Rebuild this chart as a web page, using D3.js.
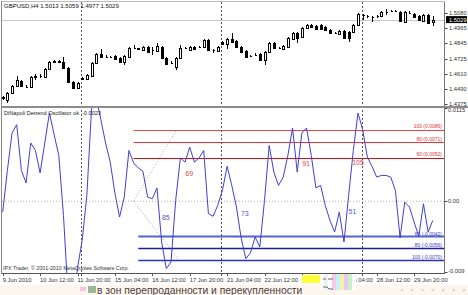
<!DOCTYPE html>
<html>
<head>
<meta charset="utf-8">
<script src="https://cdn.jsdelivr.net/npm/d3@7"></script>
<style>
  body { margin: 0; background: #fff; }
  svg { display: block; font-family: "Liberation Sans", Arial, sans-serif; }
</style>
</head>
<body>
<script>
// GBPUSD H4, 9 Jun 04:00 .. 30 Jun 2010, one entry per bar
const barOpen = [1.4424,1.4408,1.4462,1.4516,1.4555,1.4512,1.4509,1.4586,1.4594,1.4586,
  1.4648,1.4702,1.4706,1.4702,1.4655,1.4547,1.4501,1.4570,1.4570,1.4594,
  1.4694,1.4763,1.4740,1.4740,1.4748,1.4733,1.4702,1.4740,1.4810,1.4806,
  1.4794,1.4818,1.4794,1.4787,1.4818,1.4733,1.4694,1.4663,1.4733,1.4810,
  1.4794,1.4818,1.4818,1.4818,1.4872,1.4794,1.4787,1.4856,1.4841,1.4879,
  1.4864,1.4818,1.4787,1.4748,1.4756,1.4763,1.4717,1.4779,1.4848,1.4810,
  1.4802,1.4818,1.4879,1.4926,1.4895,1.4964,1.4987,1.4980,1.4987,1.4972,
  1.4949,1.4926,1.4918,1.4941,1.4933,1.4933,1.4987,1.5065,1.5057,1.5049,
  1.5057,1.5057,1.5088,1.5095,1.5095,1.5088,1.5011,1.5080,1.5072,1.5057,
  1.5018,1.5065,1.5013];
const barHigh = [1.4439,1.4470,1.4524,1.4594,1.4563,1.4524,1.4594,1.4609,1.4609,1.4655,
  1.4709,1.4717,1.4717,1.4740,1.4663,1.4555,1.4547,1.4586,1.4609,1.4702,
  1.4771,1.4802,1.4756,1.4748,1.4756,1.4740,1.4756,1.4818,1.4833,1.4810,
  1.4825,1.4825,1.4818,1.4848,1.4825,1.4740,1.4709,1.4740,1.4833,1.4818,
  1.4825,1.4825,1.4825,1.4879,1.4879,1.4802,1.4825,1.4864,1.4887,1.4926,
  1.4872,1.4825,1.4794,1.4756,1.4771,1.4771,1.4787,1.4856,1.4856,1.4818,
  1.4833,1.4895,1.4933,1.4933,1.4972,1.4995,1.4995,1.4987,1.4995,1.4980,
  1.4956,1.4933,1.4949,1.4949,1.4941,1.4995,1.5080,1.5072,1.5065,1.5057,
  1.5065,1.5095,1.5111,1.5103,1.5103,1.5095,1.5095,1.5095,1.5080,1.5065,
  1.5072,1.5072,1.5059];
const barLow = [1.4408,1.4385,1.4454,1.4509,1.4509,1.4501,1.4501,1.4563,1.4578,1.4578,
  1.4640,1.4694,1.4694,1.4648,1.4539,1.4493,1.4493,1.4563,1.4563,1.4586,
  1.4686,1.4733,1.4733,1.4733,1.4717,1.4694,1.4679,1.4733,1.4802,1.4794,
  1.4787,1.4771,1.4756,1.4779,1.4725,1.4679,1.4686,1.4640,1.4725,1.4802,
  1.4787,1.4794,1.4810,1.4810,1.4787,1.4771,1.4779,1.4833,1.4802,1.4848,
  1.4810,1.4771,1.4733,1.4740,1.4748,1.4709,1.4679,1.4771,1.4802,1.4802,
  1.4794,1.4810,1.4872,1.4848,1.4887,1.4956,1.4964,1.4949,1.4949,1.4941,
  1.4918,1.4918,1.4910,1.4879,1.4856,1.4926,1.4980,1.5026,1.5041,1.5011,
  1.5041,1.5049,1.5065,1.5088,1.5088,1.5011,1.5003,1.5072,1.5041,1.5018,
  1.5011,1.4995,1.4977];
const barClose = [1.4428,1.4462,1.4516,1.4563,1.4516,1.4509,1.4586,1.4594,1.4590,1.4648,
  1.4702,1.4706,1.4702,1.4655,1.4547,1.4501,1.4539,1.4578,1.4601,1.4694,
  1.4763,1.4740,1.4742,1.4737,1.4725,1.4702,1.4748,1.4810,1.4806,1.4802,
  1.4818,1.4779,1.4796,1.4825,1.4733,1.4686,1.4692,1.4733,1.4810,1.4808,
  1.4818,1.4802,1.4820,1.4872,1.4794,1.4792,1.4818,1.4841,1.4879,1.4856,
  1.4818,1.4779,1.4740,1.4746,1.4754,1.4717,1.4779,1.4848,1.4810,1.4808,
  1.4825,1.4887,1.4926,1.4887,1.4964,1.4987,1.4972,1.4956,1.4956,1.4949,
  1.4926,1.4924,1.4941,1.4887,1.4887,1.4987,1.5072,1.5063,1.5055,1.5051,
  1.5059,1.5088,1.5086,1.5093,1.5097,1.5018,1.5088,1.5078,1.5049,1.5026,
  1.5065,1.5003,1.5029];

// DiNapoli detrend oscillator, one value per bar
const oscValues = [-0.0013,0.0037,0.0082,0.0092,0.0037,0.0022,0.0070,0.0061,0.0034,0.0070,
  0.0106,0.0080,0.0055,-0.0017,-0.0114,-0.0125,-0.0080,-0.0047,0.0007,0.0111,
  0.0125,0.0098,0.0070,0.0047,0.0010,-0.0019,0.0005,0.0061,0.0046,0.0040,
  0.0036,0.0005,0.0003,0.0016,-0.0049,-0.0081,-0.0073,0.0001,0.0052,0.0047,
  0.0065,0.0047,0.0052,0.0061,-0.0015,-0.0018,-0.0005,0.0013,0.0042,0.0019,
  -0.0007,-0.0044,-0.0069,-0.0062,-0.0043,-0.0055,0.0001,0.0067,0.0035,0.0019,
  0.0029,0.0055,0.0088,0.0035,0.0082,0.0088,0.0055,0.0016,0.0019,-0.0005,
  -0.0023,-0.0037,-0.0013,-0.0049,0.0007,0.0061,0.0106,0.0086,0.0053,0.0042,
  0.0029,0.0031,0.0031,0.0029,0.0013,-0.0044,-0.0001,-0.0007,-0.0025,-0.0042,
  -0.0003,-0.0037,-0.0023];

// overbought / oversold levels
const upperLevels = [{ label: "100 (0.0086)", value: 0.0086 }, { label: "80 (0.0071)", value: 0.0071 }, { label: "60 (0.0052)", value: 0.0052 }];
const lowerLevels = [{ label: "60 (-0.0042)", value: -0.0042 }, { label: "80 (-0.0056)", value: -0.0056 }, { label: "100 (-0.0070)", value: -0.0070 }];
const levelStartUpper = 28, levelStartLower = 29;
const fanLines = [{ bar0: 28, v0: 0, bar1: 37.2, v1: 0.0086 }, { bar0: 28, v0: 0, bar1: 37.6, v1: -0.0070 }];

// swing duration labels on the oscillator
const swingLabels = [
  { text: "69", bar: 39.9, value: 0.0033, up: true },
  { text: "85", bar: 34.9, value: -0.0019, up: false },
  { text: "73", bar: 51.8, value: -0.0015, up: false },
  { text: "91", bar: 64.9, value: 0.0045, up: true },
  { text: "105", bar: 76.0, value: 0.0047, up: true },
  { text: "51", bar: 74.8, value: -0.0012, up: false }
];

const priceTicks = [1.5080, 1.4965, 1.4845, 1.4725, 1.4610, 1.4490, 1.4375];
const oscTicks = [{ label: "0.0115", value: 0.0112 }, { label: "0.00", value: 0 }, { label: "-0.009", value: -0.0085 }];
const timeTickBars = [0, 8, 16, 24, 32, 40, 48, 56, 64, 72, 80, 88];
const timeTickLabels = ["9 Jun 2010", "10 Jun 12:00", "11 Jun 20:00", "15 Jun 04:00", "16 Jun 12:00", "17 Jun 20:00",
  "21 Jun 04:00", "22 Jun 12:00", "23 Jun 20:00", "25 Jun 04:00", "28 Jun 12:00", "29 Jun 20:00"];
const weekStartBars = [17, 47, 77];
const lastPrice = 1.5029;

const W = 468, H = 295;
const left = 1.5, right = 444.5;

const svg = d3.select("body").append("svg").attr("width", W).attr("height", H);

const x = d3.scaleLinear().domain([0, 92]).range([2.7, 432.8]);
const yPrice = d3.scaleLinear().domain([1.4375, 1.5080]).range([104.3, 13]);
const yOsc = d3.scaleLinear().domain([-0.0085, 0.0112]).range([272, 108]);

const defs = svg.append("defs");
defs.append("clipPath").attr("id", "clipTop").append("rect").attr("x", 2).attr("y", 2).attr("width", 442).attr("height", 104);
defs.append("clipPath").attr("id", "clipOsc").append("rect").attr("x", 2).attr("y", 108).attr("width", 442).attr("height", 165);

// bottom caption strip
svg.append("rect").attr("x", 0).attr("y", 285).attr("width", W).attr("height", 10).attr("fill", "#fcf6ee");
svg.append("rect").attr("x", 80).attr("y", 287).attr("width", 6).attr("height", 4).attr("fill", "#f4c4d8");
svg.append("rect").attr("x", 88).attr("y", 286).attr("width", 8).attr("height", 7).attr("fill", "#9ab89a");
svg.append("text").attr("x", 97).attr("y", 293.5).attr("font-size", 10.3).attr("fill", "#4e4040")
  .text("в зон перепроданности и перекупленности");
svg.append("text").attr("x", 400).attr("y", 292).attr("font-size", 6).attr("fill", "#c9bfbf")
  .attr("letter-spacing", 2.6).text("× × × × × × ×");

// period separators
svg.append("g").selectAll("line").data(weekStartBars).enter().append("line")
  .attr("x1", d => Math.round(x(d)) - 0.5).attr("x2", d => Math.round(x(d)) - 0.5)
  .attr("y1", 2).attr("y2", 276)
  .attr("stroke", "#555").attr("stroke-dasharray", "2,2");

// ---- price panel ----
svg.append("line").attr("x1", 2).attr("x2", right).attr("y1", Math.round(yPrice(lastPrice)) + 0.5).attr("y2", Math.round(yPrice(lastPrice)) + 0.5)
  .attr("stroke", "#c8c8c8");

const candles = svg.append("g").attr("clip-path", "url(#clipTop)").attr("shape-rendering", "crispEdges");
const idx = d3.range(barOpen.length);
candles.selectAll("line").data(idx).enter().append("line")
  .attr("x1", i => Math.round(x(i)) + 0.5).attr("x2", i => Math.round(x(i)) + 0.5)
  .attr("y1", i => yPrice(barHigh[i])).attr("y2", i => yPrice(barLow[i]))
  .attr("stroke", "#000");
candles.selectAll("path").data(idx).enter().append("path")
  .attr("d", i => {
    const cx = Math.round(x(i));
    const y0 = Math.round(yPrice(Math.max(barOpen[i], barClose[i]))) + 0.5;
    const y1 = Math.round(yPrice(Math.min(barOpen[i], barClose[i]))) + 0.5;
    return `M${cx - 0.5},${y0}h2V${y1}h-2Z`;
  })
  .attr("fill", i => barClose[i] >= barOpen[i] ? "#fff" : "#000")
  .attr("stroke", "#000");

svg.append("text").attr("x", 4).attr("y", 8).attr("font-size", 6).attr("fill", "#111")
  .text("GBPUSD,H4  1.5013 1.5059 1.4977 1.5029");

// price axis
const pAxis = svg.append("g");
pAxis.selectAll("line").data(priceTicks).enter().append("line")
  .attr("x1", right).attr("x2", right + 3)
  .attr("y1", d => Math.round(yPrice(d)) + 0.5).attr("y2", d => Math.round(yPrice(d)) + 0.5)
  .attr("stroke", "#444");
pAxis.selectAll("text").data(priceTicks).enter().append("text")
  .attr("x", 449).attr("y", d => yPrice(d) + 2).attr("font-size", 5.8).attr("fill", "#333")
  .text(d => d.toFixed(4));
svg.append("rect").attr("x", 446).attr("y", yPrice(lastPrice) - 3.5).attr("width", 21).attr("height", 7).attr("fill", "#000");
svg.append("text").attr("x", 449).attr("y", yPrice(lastPrice) + 2).attr("font-size", 5.8).attr("fill", "#fff")
  .text(lastPrice.toFixed(4));

// ---- oscillator panel ----
svg.append("line").attr("x1", 2).attr("x2", right).attr("y1", yOsc(0)).attr("y2", yOsc(0))
  .attr("stroke", "#b4b4b4").attr("stroke-dasharray", "1,2");

const osc = svg.append("g").attr("clip-path", "url(#clipOsc)");
osc.selectAll("line.fan").data(fanLines).enter().append("line").attr("class", "fan")
  .attr("x1", d => x(d.bar0)).attr("y1", d => yOsc(d.v0))
  .attr("x2", d => x(d.bar1)).attr("y2", d => yOsc(d.v1))
  .attr("stroke", "#aaa").attr("stroke-dasharray", "1,2");

osc.selectAll("line.up").data(upperLevels).enter().append("line").attr("class", "up")
  .attr("x1", x(levelStartUpper)).attr("x2", right)
  .attr("y1", d => Math.round(yOsc(d.value)) + 0.5).attr("y2", d => Math.round(yOsc(d.value)) + 0.5)
  .attr("stroke", (d, i) => ["#ee4444", "#e43434", "#cc1111"][i]).attr("stroke-width", 1.2);
osc.selectAll("line.dn").data(lowerLevels).enter().append("line").attr("class", "dn")
  .attr("x1", x(levelStartLower)).attr("x2", right)
  .attr("y1", d => Math.round(yOsc(d.value)) + 0.5).attr("y2", d => Math.round(yOsc(d.value)) + 0.5)
  .attr("stroke", (d, i) => ["#5562d4", "#1c1f98", "#2a32b8"][i]).attr("stroke-width", (d, i) => i === 0 ? 2 : 1.3);

osc.selectAll("text.up").data(upperLevels).enter().append("text").attr("class", "up")
  .attr("x", 442).attr("y", d => yOsc(d.value) - 1.5).attr("text-anchor", "end")
  .attr("font-size", 5).attr("fill", "#e03030").text(d => d.label);
osc.selectAll("text.dn").data(lowerLevels).enter().append("text").attr("class", "dn")
  .attr("x", 442).attr("y", d => yOsc(d.value) - 0.5).attr("text-anchor", "end")
  .attr("font-size", 5).attr("fill", "#3a3ab8").text(d => d.label);

const oscLine = d3.line().x((d, i) => x(i)).y(d => yOsc(d));
osc.append("path").datum(oscValues).attr("d", oscLine)
  .attr("fill", "none").attr("stroke", "#3f3fd6").attr("stroke-width", 1);

osc.selectAll("text.swing").data(swingLabels).enter().append("text").attr("class", "swing")
  .attr("x", d => x(d.bar)).attr("y", d => yOsc(d.value) + 2.5).attr("text-anchor", "middle")
  .attr("font-size", 7).attr("fill", d => d.up ? "#e04848" : "#5656cc").text(d => d.text);

svg.append("text").attr("x", 4).attr("y", 115).attr("font-size", 5.6).attr("fill", "#222")
  .text("DiNapoli Detrend Oscillator ok");
svg.append("text").attr("x", 82).attr("y", 115).attr("font-size", 5.6).attr("fill", "#222")
  .text("-0.0023");
svg.append("text").attr("x", 3).attr("y", 270).attr("font-size", 5.3).attr("fill", "#333")
  .text("IPX Trader, © 2001-2010 MetaQuotes Software Corp.");

// oscillator axis
const oAxis = svg.append("g");
oAxis.selectAll("line").data(oscTicks).enter().append("line")
  .attr("x1", right).attr("x2", right + 3)
  .attr("y1", d => Math.round(yOsc(d.value)) + 0.5).attr("y2", d => Math.round(yOsc(d.value)) + 0.5)
  .attr("stroke", "#444");
oAxis.selectAll("text").data(oscTicks).enter().append("text")
  .attr("x", 448).attr("y", (d, i) => yOsc(d.value) + [4, 2, 1][i]).attr("font-size", 5.8).attr("fill", "#333")
  .text(d => d.label);

// frame
const frame = svg.append("g").attr("fill", "none").attr("shape-rendering", "crispEdges");
frame.append("line").attr("x1", left).attr("x2", left).attr("y1", 1).attr("y2", 273.5).attr("stroke", "#888");
frame.append("line").attr("x1", right).attr("x2", right).attr("y1", 1).attr("y2", 273.5).attr("stroke", "#777");
frame.append("line").attr("x1", left).attr("x2", right).attr("y1", 1.5).attr("y2", 1.5).attr("stroke", "#bbb");
frame.append("line").attr("x1", left).attr("x2", right + 24).attr("y1", 107).attr("y2", 107).attr("stroke", "#8c8c8c").attr("stroke-width", 2);
frame.append("line").attr("x1", left).attr("x2", right).attr("y1", 273.5).attr("y2", 273.5).attr("stroke", "#555");

// time axis
const tAxis = svg.append("g");
tAxis.selectAll("line").data(timeTickBars).enter().append("line")
  .attr("x1", d => Math.round(x(d)) + 0.5).attr("x2", d => Math.round(x(d)) + 0.5)
  .attr("y1", 273).attr("y2", 276).attr("stroke", "#555");
svg.append("rect").attr("x", 302).attr("y", 275).attr("width", 18).attr("height", 8).attr("fill", "#ffff38");
tAxis.selectAll("text").data(timeTickBars).enter().append("text")
  .attr("x", d => x(d)).attr("y", 281.5).attr("font-size", 5.8)
  .attr("fill", (d, i) => i === 8 ? "#6a3cc8" : "#333")
  .text((d, i) => timeTickLabels[i]);

// screenshot overlay artefacts on the time axis
const stripes = ["#ffffff", "#f0f0f0", "#ffffff", "#f6c8ec", "#c6f2f4", "#f9f2a6", "#e6c8f6", "#c8f2c8", "#ffffff"];
svg.append("g").selectAll("rect").data(stripes).enter().append("rect")
  .attr("x", (d, i) => 320 + i * 4).attr("y", 274).attr("width", 4).attr("height", 16).attr("fill", d => d);
svg.append("path").attr("d", "M323,279h3M328,279h5M323,287h4l2,2h4").attr("stroke", "#666").attr("fill", "none");
</script>
</body>
</html>
